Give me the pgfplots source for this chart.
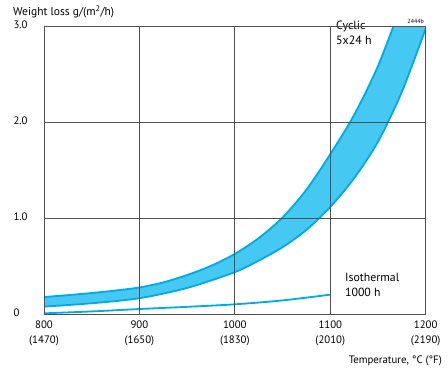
\documentclass[border=0pt]{standalone}
\usepackage{pgfplots}
\pgfplotsset{compat=1.18}
\usepgfplotslibrary{fillbetween}
\usepackage{fontspec}
\setmainfont{PT Sans}
\definecolor{bandfill}{HTML}{45C8F2}
\definecolor{bandedge}{HTML}{00AAE8}
\definecolor{gridc}{HTML}{505050}
\begin{document}
\begin{tikzpicture}
\begin{axis}[
  scale only axis, width=381.7bp, height=287.6bp,
  at={(0,0)}, anchor=south west,
  xmin=800, xmax=1200, ymin=0, ymax=3,
  xtick={800,900,1000,1100,1200},
  xticklabels={{800\\(1470)},{900\\(1650)},{1000\\(1830)},{1100\\(2010)},{1200\\(2190)}},
  ytick={0,1,2,3}, yticklabels={0,1.0,2.0,3.0},
  major tick length=0pt,
  grid=major, grid style={gridc, line width=0.9bp},
  axis line style={gridc, line width=1bp},
  axis on top=true,
  tick label style={font=\fontsize{10.8bp}{15bp}\selectfont},
  xticklabel style={align=center, yshift=-3bp},
  yticklabel style={anchor=west, xshift=-34bp, yshift=2bp},
  /pgf/number format/assume math mode=true,
]
\addplot[name path=upper, draw=bandedge, line width=1.8bp, smooth] coordinates {
 (800,0.18) (825,0.20) (850,0.222) (875,0.248) (900,0.28) (925,0.333) (950,0.41) (975,0.505)
 (1000,0.63) (1025,0.795) (1050,1.01) (1075,1.30) (1100,1.67) (1125,2.08)
 (1150,2.59) (1175,3.24)
};
\addplot[name path=lower, draw=bandedge, line width=1.8bp, smooth] coordinates {
 (800,0.08) (850,0.115) (900,0.168) (950,0.275) (1000,0.44) (1025,0.56) (1050,0.70)
 (1075,0.88) (1100,1.12) (1125,1.42) (1150,1.80) (1175,2.32) (1200,2.98)
};
\addplot[bandfill, draw=none] fill between[of=upper and lower];
\addplot[draw=bandedge, line width=1.8bp, smooth] coordinates {
 (800,0.01) (850,0.03) (900,0.055) (950,0.078) (1000,0.104) (1050,0.145) (1100,0.205)
};
\end{axis}
\path[use as bounding box] (-44bp,-63.7bp) rectangle (404bp,314.3bp);
\node[anchor=base west, inner sep=0pt, font=\fontsize{11.5bp}{13bp}\selectfont] at (-31bp,298.8bp) {Weight loss g/(m\textsuperscript{2}/h)};
\node[anchor=base east, inner sep=0pt, font=\fontsize{10.8bp}{13bp}\selectfont] at (398bp,-49.5bp) {Temperature, °C (°F)};
\node[anchor=base east, inner sep=0pt, font=\fontsize{6bp}{7bp}\selectfont] at (380bp,291bp) {2444b};
\node[anchor=base west, inner sep=0pt, align=left, font=\fontsize{12bp}{15bp}\selectfont] at (292bp,269.3bp) {Cyclic\\5x24 h};
\node[anchor=base west, inner sep=0pt, align=left, font=\fontsize{11.8bp}{15bp}\selectfont] at (301bp,18.3bp) {Isothermal\\1000 h};
\end{tikzpicture}
\end{document}
